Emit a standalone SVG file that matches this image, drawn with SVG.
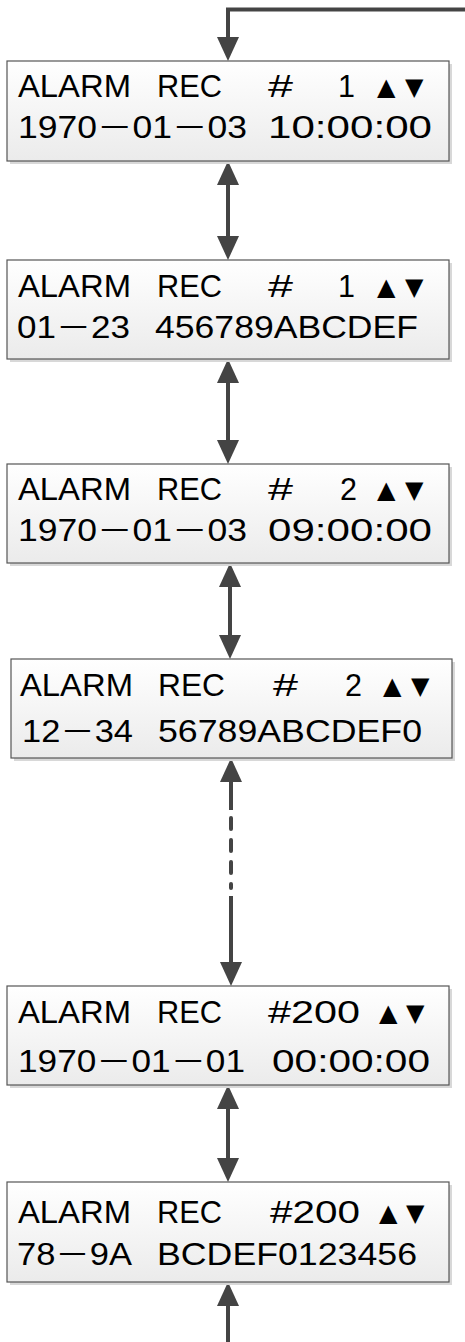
<svg xmlns="http://www.w3.org/2000/svg" width="465" height="1342" viewBox="0 0 465 1342">
<defs>
<linearGradient id="g" x1="0" y1="0" x2="0" y2="1">
<stop offset="0" stop-color="#ffffff"/>
<stop offset="1" stop-color="#ebebeb"/>
</linearGradient>
<marker id="ah" markerUnits="userSpaceOnUse" markerWidth="26" markerHeight="24" refX="0" refY="11" orient="auto-start-reverse" viewBox="0 0 26 22">
<path d="M0,0 L24,11 L0,22 z" fill="#444"/>
</marker>
<style>
.box{fill:url(#g);stroke:#555;stroke-width:1.2}
.sh{fill:#d8d8d8}
.t{font-family:"Liberation Sans","Noto Sans CJK JP",sans-serif;font-size:30.5px;fill:#000}
.tri{font-family:"DejaVu Sans",sans-serif;font-size:24px;fill:#000}
.c{fill:none;stroke:#444;stroke-width:4}
</style>
</defs>

<g id="connectors">
<path class="c" d="M465,9.5 H228 V37" marker-end="url(#ah)"/>
<path class="c" d="M228,185 V236" marker-start="url(#ah)" marker-end="url(#ah)"/>
<path class="c" d="M228,383 V440" marker-start="url(#ah)" marker-end="url(#ah)"/>
<path class="c" d="M230,587 V635" marker-start="url(#ah)" marker-end="url(#ah)"/>
<path class="c" d="M231,782 V810" marker-start="url(#ah)"/>
<path class="c" d="M231,818 V888" stroke-dasharray="11 11" stroke-linecap="round"/>
<path class="c" d="M231,896 V962" marker-end="url(#ah)"/>
<path class="c" d="M228,1109 V1158" marker-start="url(#ah)" marker-end="url(#ah)"/>
<path class="c" d="M228,1306 V1342" marker-start="url(#ah)"/>
</g>

<g id="node1">
<rect class="sh" x="10" y="64" width="442" height="100"/>
<rect class="box" x="7" y="61" width="442" height="100"/>
<text class="t" x="18" y="97" textLength="113" lengthAdjust="spacingAndGlyphs">ALARM</text>
<text class="t" x="157" y="97" textLength="65" lengthAdjust="spacingAndGlyphs">REC</text>
<text class="t" x="268" y="97" textLength="25" lengthAdjust="spacingAndGlyphs">#</text>
<text class="t" x="355" y="97" text-anchor="end">1</text>
<text class="tri" x="377" y="95">▲</text>
<text class="tri" x="405" y="95">▼</text>
<text class="t" x="18" y="138" textLength="229" lengthAdjust="spacingAndGlyphs">1970－01－03</text>
<text class="t" x="268" y="138" textLength="164" lengthAdjust="spacingAndGlyphs">10:00:00</text>
</g>

<g id="node2">
<rect class="sh" x="10" y="263" width="442" height="99"/>
<rect class="box" x="7" y="260" width="442" height="99"/>
<text class="t" x="18" y="297" textLength="113" lengthAdjust="spacingAndGlyphs">ALARM</text>
<text class="t" x="157" y="297" textLength="65" lengthAdjust="spacingAndGlyphs">REC</text>
<text class="t" x="268" y="297" textLength="25" lengthAdjust="spacingAndGlyphs">#</text>
<text class="t" x="355" y="297" text-anchor="end">1</text>
<text class="tri" x="377" y="295">▲</text>
<text class="tri" x="405" y="295">▼</text>
<text class="t" x="17" y="338" textLength="113" lengthAdjust="spacingAndGlyphs">01－23</text>
<text class="t" x="155" y="338" textLength="263" lengthAdjust="spacingAndGlyphs">456789ABCDEF</text>
</g>

<g id="node3">
<rect class="sh" x="10" y="467" width="442" height="99"/>
<rect class="box" x="7" y="464" width="442" height="99"/>
<text class="t" x="18" y="500" textLength="113" lengthAdjust="spacingAndGlyphs">ALARM</text>
<text class="t" x="157" y="500" textLength="65" lengthAdjust="spacingAndGlyphs">REC</text>
<text class="t" x="268" y="500" textLength="25" lengthAdjust="spacingAndGlyphs">#</text>
<text class="t" x="357" y="500" text-anchor="end">2</text>
<text class="tri" x="377" y="498">▲</text>
<text class="tri" x="405" y="498">▼</text>
<text class="t" x="18" y="541" textLength="229" lengthAdjust="spacingAndGlyphs">1970－01－03</text>
<text class="t" x="268" y="541" textLength="164" lengthAdjust="spacingAndGlyphs">09:00:00</text>
</g>

<g id="node4">
<rect class="sh" x="14" y="662" width="441" height="99"/>
<rect class="box" x="11" y="659" width="441" height="99"/>
<text class="t" x="20" y="696" textLength="113" lengthAdjust="spacingAndGlyphs">ALARM</text>
<text class="t" x="158" y="696" textLength="67" lengthAdjust="spacingAndGlyphs">REC</text>
<text class="t" x="273" y="696" textLength="25" lengthAdjust="spacingAndGlyphs">#</text>
<text class="t" x="362" y="696" text-anchor="end">2</text>
<text class="tri" x="383" y="694">▲</text>
<text class="tri" x="411" y="694">▼</text>
<text class="t" x="22" y="742" textLength="111" lengthAdjust="spacingAndGlyphs">12－34</text>
<text class="t" x="158" y="742" textLength="264" lengthAdjust="spacingAndGlyphs">56789ABCDEF0</text>
</g>

<g id="node5">
<rect class="sh" x="10" y="989" width="442" height="99"/>
<rect class="box" x="7" y="986" width="442" height="99"/>
<text class="t" x="18" y="1023" textLength="113" lengthAdjust="spacingAndGlyphs">ALARM</text>
<text class="t" x="157" y="1023" textLength="65" lengthAdjust="spacingAndGlyphs">REC</text>
<text class="t" x="268" y="1023" textLength="92" lengthAdjust="spacingAndGlyphs">#200</text>
<text class="tri" x="379" y="1021">▲</text>
<text class="tri" x="406" y="1021">▼</text>
<text class="t" x="18" y="1072" textLength="227" lengthAdjust="spacingAndGlyphs">1970－01－01</text>
<text class="t" x="272" y="1072" textLength="158" lengthAdjust="spacingAndGlyphs">00:00:00</text>
</g>

<g id="node6">
<rect class="sh" x="10" y="1185" width="442" height="100"/>
<rect class="box" x="7" y="1182" width="442" height="100"/>
<text class="t" x="18" y="1223" textLength="113" lengthAdjust="spacingAndGlyphs">ALARM</text>
<text class="t" x="157" y="1223" textLength="65" lengthAdjust="spacingAndGlyphs">REC</text>
<text class="t" x="270" y="1223" textLength="90" lengthAdjust="spacingAndGlyphs">#200</text>
<text class="tri" x="379" y="1221">▲</text>
<text class="tri" x="406" y="1221">▼</text>
<text class="t" x="17" y="1265" textLength="115" lengthAdjust="spacingAndGlyphs">78－9A</text>
<text class="t" x="157" y="1265" textLength="260" lengthAdjust="spacingAndGlyphs">BCDEF0123456</text>
</g>
</svg>
